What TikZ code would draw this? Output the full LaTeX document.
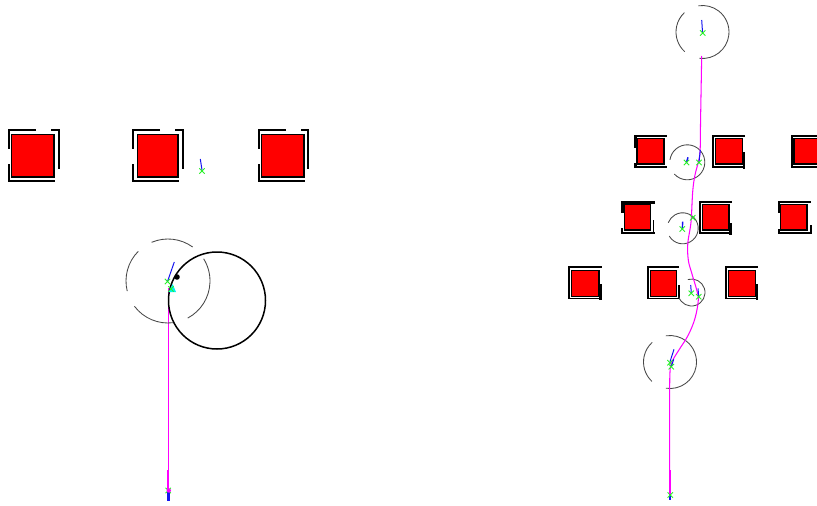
\documentclass[tikz,border=0pt]{standalone}
\definecolor{trailmag}{RGB}{255,0,255}
\definecolor{markgreen}{RGB}{40,240,40}
\definecolor{headblue}{RGB}{20,20,240}
\definecolor{tipcyan}{RGB}{0,240,240}
\definecolor{boxred}{RGB}{255,0,0}
\tikzset{
  red box/.style={fill=boxred,draw=black,line width=1.2pt},
  corner/.style={draw=black,line width=1.7pt},
  thick corner/.style={draw=black,line width=2.7pt},
  bubble/.style={draw=black!72,line width=0.85pt},
  big ring/.style={draw=black,line width=1.5pt},
  trail/.style={draw=trailmag,line width=1.05pt},
  heading/.style={draw=headblue,line width=1pt},
  cross/.style={draw=markgreen,line width=0.9pt}
}
\newcommand{\mk}[2]{\draw[cross] (#1-2.7,#2-2.7) -- (#1+2.7,#2+2.7) (#1-2.7,#2+2.7) -- (#1+2.7,#2-2.7);}
\begin{document}
\begin{tikzpicture}[x=1pt,y=-1pt]
\useasboundingbox (0,0) rectangle (817,506);
% left boxes
\draw[red box] (11.5,134.7) rectangle (54,177);
\draw[corner] (36,130) -- (8.7,130) -- (8.7,149) (51,130) -- (59,130) -- (59,169) (8.7,164) -- (8.7,181) -- (55,181);
\draw[red box] (137.5,134.7) rectangle (178,177);
\draw[corner] (160,130) -- (132.8,130) -- (132.8,149) (175,130) -- (183,130) -- (183,169) (132.8,164) -- (132.8,181) -- (179,181);
\draw[red box] (261.5,134.7) rectangle (304,177);
\draw[corner] (286,130) -- (258.8,130) -- (258.8,149) (301,130) -- (308,130) -- (308,169) (258.8,164) -- (258.8,181) -- (305,181);
% lone marker
\draw[heading] (200.3,159) -- (202,170);
\mk{202}{171}
% left robot
\draw[trail] (168.3,490.5) -- (168.3,288);
\draw[big ring] (217,300.5) circle (48.5);
\fill[black] (177,277) circle (2.8);
\draw[bubble] (168,281) ++(143:42) arc (143:83:42);
\draw[bubble] (168,281) ++(62:42) arc (62:-32:42);
\draw[bubble] (168,281) ++(-54:42) arc (-54:-113:42);
\draw[bubble] (168,281) ++(225:42) arc (225:166:42);
\fill[tipcyan] (172.7,284) -- (176,292) -- (168.5,292) -- cycle;
\draw[heading] (167.5,281.5) -- (174.3,262);
\mk{167.5}{281.5}
\mk{171}{289}
\draw[heading,line width=2.6pt] (168.3,490) -- (168.3,501);
\mk{168.2}{490.5}
\draw[trail,line width=2pt] (168.3,470) -- (168.3,490);
\fill[trailmag] (168.8,490.5) circle (2.2);
% right boxes, row 1
\draw[red box] (636.9,138.2) rectangle (664,164);
\draw[thick corner] (666.7,136) -- (635.3,136) -- (635.3,148) (635.3,163) -- (635.3,167) -- (666.7,167);
\draw[red box] (715.2,138.2) rectangle (742.3,164);
\draw[corner] (745,136) -- (713.2,136) -- (713.2,167.3) -- (745,167.3);
\draw[thick corner] (744,152) -- (744,168.5);
\draw[red box] (794,138.2) rectangle (818,164);
\draw[corner] (817,136) -- (792,136) -- (792,167.3) -- (817,167.3);
% row 2
\draw[red box] (624.2,204.2) rectangle (650.7,230);
\draw[thick corner] (654.7,202.3) -- (622.3,202.3) -- (622.3,213);
\draw[corner] (622,228) -- (622,233.3) -- (654.7,233.3) (653.5,220) -- (653.5,233.3);
\draw[red box] (702.2,204.2) rectangle (729,230);
\draw[corner] (731.7,202.3) -- (700.2,202.3) -- (700.2,233.3) -- (731.7,233.3);
\draw[thick corner] (730.8,223) -- (730.8,234.5);
\draw[red box] (780.8,204.2) rectangle (807,230);
\draw[corner] (810.7,202.3) -- (778.7,202.3) -- (778.7,213) (778.7,229) -- (778.7,233.3) -- (810.7,233.3) -- (810.7,225);
% row 3
\draw[red box] (571.8,270.7) rectangle (599,296.7);
\draw[corner] (601.7,267) -- (568.7,267) -- (568.7,298.5) -- (601.7,298.5);
\draw[thick corner] (600.7,284) -- (600.7,299.5);
\draw[red box] (650.2,270.7) rectangle (676.7,296.7);
\draw[corner] (679,267) -- (648,267) -- (648,298.5) -- (679,298.5) -- (679,285);
\draw[red box] (728.2,270.7) rectangle (755.7,296.7);
\draw[corner] (757.7,267) -- (725.8,267) -- (725.8,298.5) -- (757.7,298.5);
\draw[thick corner] (757,284) -- (757,299.5);
% right bubbles
\draw[bubble] (702.5,32) ++(97:26.5) arc (97:-99:26.5);
\draw[bubble] (702.5,32) ++(132:26.5) arc (132:227:26.5);
\draw[bubble] (687.3,162.3) ++(138:17.5) arc (138:-172:17.5);
\draw[bubble] (682.7,228.3) ++(150:15.5) arc (150:-159:15.5);
\draw[bubble] (691.5,292.5) ++(162:13.5) arc (162:-106:13.5);
\draw[bubble] (670,362) ++(99:26.5) arc (99:-99:26.5);
\draw[bubble] (670,362) ++(133:26.5) arc (133:228:26.5);
% right trail
\draw[trail] plot[smooth,tension=0.6] coordinates {(669.7,492) (669.7,400) (670,372) (672,361.7) (680,348.3) (688.3,335) (695,318.3) (698.3,300) (696.7,290) (691.7,273) (688.3,260) (687.8,243.3) (691,222) (692.7,191.7) (695,175) (699.3,158) (700.3,145) (700.5,125) (701.7,56)};
% right markers
\draw[heading] (701.7,20) -- (702.5,32); \mk{702.7}{33}
\draw[heading,line width=1.4pt] (688,157.3) -- (686.5,162.3); \mk{686.5}{162.5}
\draw[heading] (700.3,150) -- (699,162); \mk{699}{162.5}
\draw[heading,line width=1.4pt] (682.7,221.7) -- (682.3,229); \mk{682.3}{229}
\mk{692.7}{217.7}
\draw[heading] (690.7,285) -- (691.3,293); \mk{691.3}{293.3}
\draw[heading] (698,288.3) -- (698.7,296.5); \mk{698.7}{296.7}
\draw[heading] (674,349.3) -- (670,361.7); \mk{670}{362.7}
\draw[heading] (673.7,359.3) -- (671.3,366.5); \mk{671.3}{366.7}
\draw[heading,line width=2.6pt] (670,492) -- (670,500);
\mk{670.3}{495}
\draw[trail,line width=2pt] (670,470) -- (670,494);
\end{tikzpicture}
\end{document}
